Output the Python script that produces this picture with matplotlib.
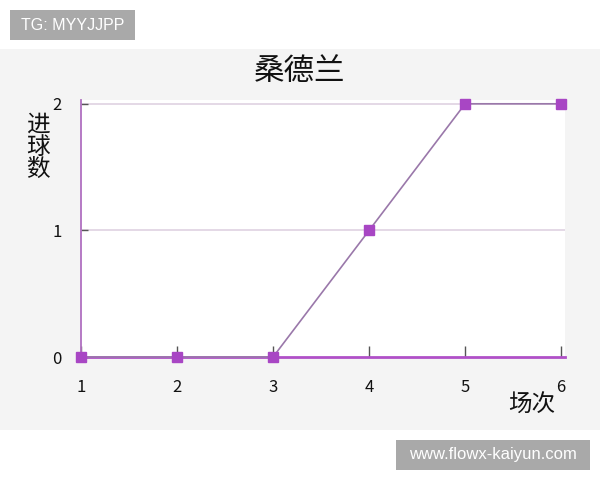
import matplotlib.pyplot as plt
from matplotlib.patches import Rectangle

plt.rcParams['font.family'] = ['Noto Sans CJK SC', 'DejaVu Sans']

matches = [1, 2, 3, 4, 5, 6]
goals = [0, 0, 0, 1, 2, 2]
x_ticks = [1, 2, 3, 4, 5, 6]
y_ticks = [0, 1, 2]

fig = plt.figure(figsize=(6, 4.8), dpi=100)
fig.patch.set_facecolor('white')

# grey band behind the chart
band = Rectangle((0, 50 / 480), 1, 381 / 480, transform=fig.transFigure,
                 facecolor='#f4f4f4', edgecolor='none', zorder=-10)
fig.patches.append(band)

ax = fig.add_axes([81 / 600, 123 / 480, 484 / 600, 257 / 480])
ax.set_zorder(1)
ax.set_facecolor('white')

ax.plot(matches, goals, color='#9a78aa', linewidth=1.2, zorder=3, clip_on=False)
ax.plot(matches, goals, linestyle='none', marker='s', markersize=6.5,
        markerfacecolor='#a846c4', markeredgecolor='#a846c4', zorder=4, clip_on=False)

ax.set_xlim(1, 6.04)
ax.set_ylim(0, 2.03)

for y in y_ticks[1:]:
    ax.axhline(y, color='#e2d6e4', linewidth=1.3, zorder=1)

for s in ['top', 'right']:
    ax.spines[s].set_visible(False)
ax.spines['left'].set_color('#b070c0')
ax.spines['bottom'].set_color('#b050c8')
ax.spines['left'].set_linewidth(1.3)
ax.spines['bottom'].set_linewidth(2)
ax.spines['bottom'].set_zorder(2)

ax.set_xticks(x_ticks)
ax.set_yticks(y_ticks)
ax.tick_params(axis='x', direction='in', length=8, width=1, color='#555555',
               pad=16, labelsize=12, labelcolor='#111111')
ax.tick_params(axis='y', direction='in', length=5, width=1, color='#555555',
               pad=14, labelsize=12, labelcolor='#111111')

fig.text(0.5, 1 - 72 / 480, '桑德兰', ha='center', va='center', fontsize=22, color='#111111')
fig.text(38 / 600, 1 - 147 / 480, '进\n球\n数', ha='center', va='center', fontsize=17,
         color='#111111', linespacing=0.95)
fig.text(532 / 600, 1 - 405 / 480, '场次', ha='center', va='center', fontsize=17, color='#111111')

# watermark boxes
fig.patches.append(Rectangle((10 / 600, 1 - 40 / 480), 125 / 600, 30 / 480,
                             transform=fig.transFigure, facecolor='#a9a9a9', edgecolor='none'))
fig.patches.append(Rectangle((396 / 600, 1 - 470 / 480), 194 / 600, 30 / 480,
                             transform=fig.transFigure, facecolor='#a9a9a9', edgecolor='none'))
fig.text(72.5 / 600, 1 - 25 / 480, 'TG: MYYJJPP', ha='center', va='center', fontsize=11.5,
         color='white', family=['Liberation Sans'], zorder=5)
fig.text(493 / 600, 1 - 455 / 480, 'www.flowx-kaiyun.com', ha='center', va='center', fontsize=12,
         color='white', family=['Liberation Sans'], zorder=5)

fig.savefig('out.png', dpi=100)
